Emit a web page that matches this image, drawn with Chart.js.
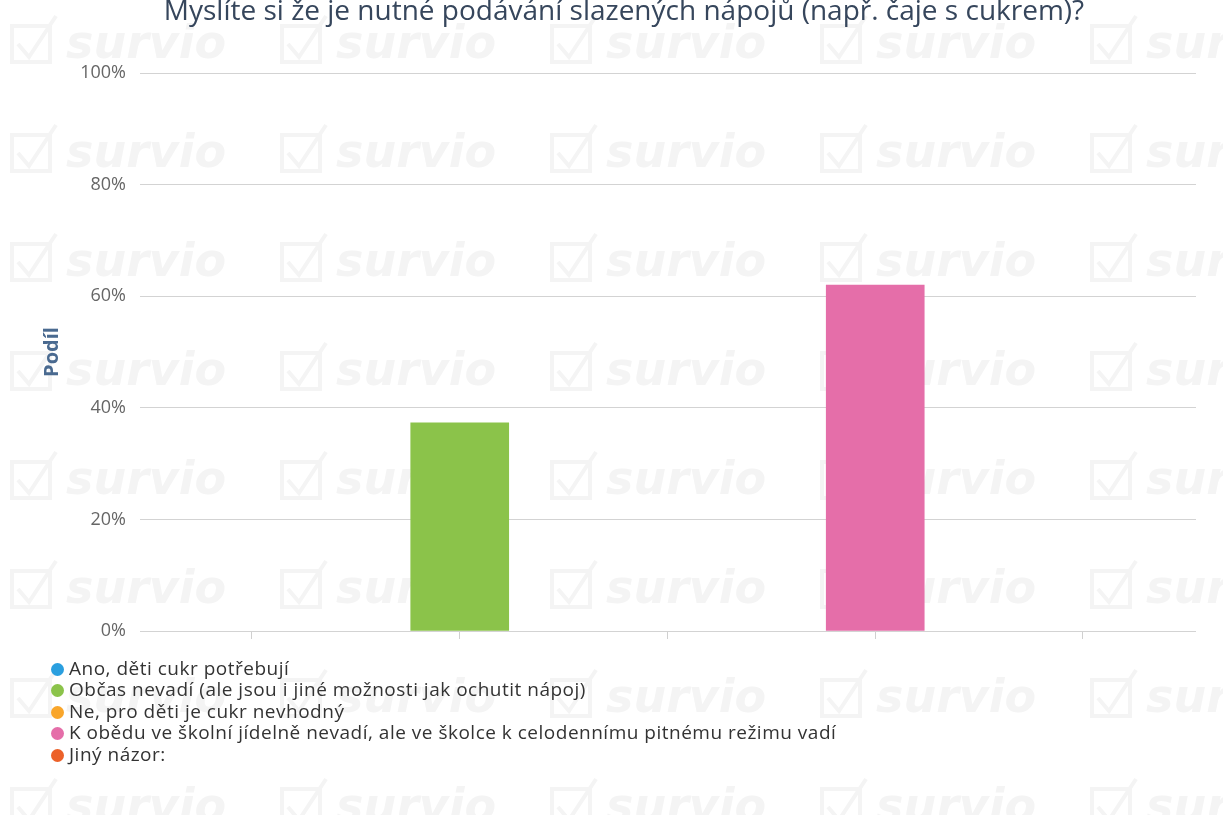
<!DOCTYPE html>
<html>
<head>
<meta charset="utf-8">
<script src="https://cdn.jsdelivr.net/npm/chart.js@4"></script>
<style>
  html, body { margin: 0; padding: 0; background: #fff; }
  #wrap { position: relative; width: 1223px; height: 815px; overflow: hidden; }
  #legend {
    position: absolute; left: 51px; top: 658px; margin: 0; padding: 0; list-style: none;
    font-family: "Open Sans", sans-serif; font-size: 19px; letter-spacing: 0.5px; color: #333;
  }
  #legend li { height: 21.4px; line-height: 21.4px; white-space: nowrap; }
  #legend span.dot {
    display: inline-block; width: 13px; height: 13px; border-radius: 50%;
    margin-right: 5px; vertical-align: -1px;
  }
</style>
</head>
<body>
<div id="wrap">
  <canvas id="chart" width="1223" height="815"></canvas>
  <ul id="legend"></ul>
</div>
<script>
const question = "Myslíte si že je nutné podávání slazených nápojů (např. čaje s cukrem)?";
const answers = [
  "Ano, děti cukr potřebují",
  "Občas nevadí (ale jsou i jiné možnosti jak ochutit nápoj)",
  "Ne, pro děti je cukr nevhodný",
  "K obědu ve školní jídelně nevadí, ale ve školce k celodennímu pitnému režimu vadí",
  "Jiný názor:"
];
const shares = [0, 37.3, 0, 62.0, 0];
const colors = ["#2a9fdf", "#8bc34a", "#f9a62b", "#e56ea9", "#ec6129"];
const yTicks = [0, 20, 40, 60, 80, 100];

// faint "survio" watermark tiled behind the chart
const watermark = {
  id: "watermark",
  beforeDraw(chart) {
    const ctx = chart.ctx;
    ctx.save();
    ctx.fillStyle = "#f4f4f4";
    ctx.strokeStyle = "#f4f4f4";
    ctx.lineWidth = 4;
    ctx.font = "italic bold 46px 'DejaVu Sans', sans-serif";
    ctx.textBaseline = "middle";
    for (let row = 0; row < 8; row++) {
      const y = 44 + row * 109;
      for (let col = 0; col < 5; col++) {
        const x = 12 + col * 270;
        ctx.strokeRect(x, y - 18, 38, 36);
        ctx.beginPath();
        ctx.moveTo(x + 6, y);
        ctx.lineTo(x + 17, y + 13);
        ctx.lineTo(x + 44, y - 28);
        ctx.stroke();
        ctx.fillText("survio", x + 54, y + 2);
      }
    }
    ctx.restore();
  }
};

const htmlLegend = {
  id: "htmlLegend",
  afterUpdate(chart) {
    const ul = document.getElementById("legend");
    ul.innerHTML = "";
    chart.data.datasets.forEach(ds => {
      const li = document.createElement("li");
      const dot = document.createElement("span");
      dot.className = "dot";
      dot.style.background = ds.backgroundColor;
      li.appendChild(dot);
      li.appendChild(document.createTextNode(ds.label));
      ul.appendChild(li);
    });
  }
};

// one dataset per answer so every answer gets its own legend entry;
// zero shares get no bar at all
const datasets = answers.map((label, i) => ({
  label,
  data: shares[i] > 0 ? [{ x: i, y: shares[i] }] : [],
  backgroundColor: colors[i],
  borderWidth: 0,
  barThickness: 98,
  grouped: false,
}));

new Chart(document.getElementById("chart"), {
  type: "bar",
  data: { datasets },
  plugins: [watermark, htmlLegend],
  options: {
    responsive: false,
    animation: false,
    // left padding keeps the title centred where the original has it
    layout: { padding: { left: 52, right: 27, top: 0, bottom: 176 } },
    plugins: {
      legend: { display: false },
      tooltip: { enabled: false },
      title: {
        display: true,
        text: question,
        color: "#36465c",
        font: { family: "'Open Sans', sans-serif", size: 28, weight: "normal", lineHeight: 1 },
        padding: { top: -2, bottom: 47 },
      },
    },
    scales: {
      x: {
        type: "linear",
        offset: false,
        min: -0.539,
        max: 4.544,
        afterBuildTicks: s => { s.ticks = answers.map((_, i) => ({ value: i })); },
        afterFit: s => { s.height = 8; },
        ticks: { display: false },
        grid: { offset: false, drawOnChartArea: false, drawTicks: true, tickLength: 8, color: "#d0d0d0" },
        border: { display: false },
      },
      y: {
        min: 0,
        max: 100,
        afterBuildTicks: s => { s.ticks = yTicks.map(v => ({ value: v })); },
        afterFit: s => { s.width = 88; },
        ticks: {
          color: "#666",
          padding: 14,
          font: { family: "'Open Sans', sans-serif", size: 18 },
          callback: v => v + "%",
        },
        grid: { color: "#d3d3d3", drawTicks: false },
        border: { display: false },
        title: {
          display: true,
          text: "Podíl",
          color: "#4a6a90",
          font: { family: "'Open Sans', sans-serif", size: 20, weight: "bold", lineHeight: 1 },
          padding: { top: -10, bottom: 0 },
        },
      },
    },
  },
});
</script>
</body>
</html>
